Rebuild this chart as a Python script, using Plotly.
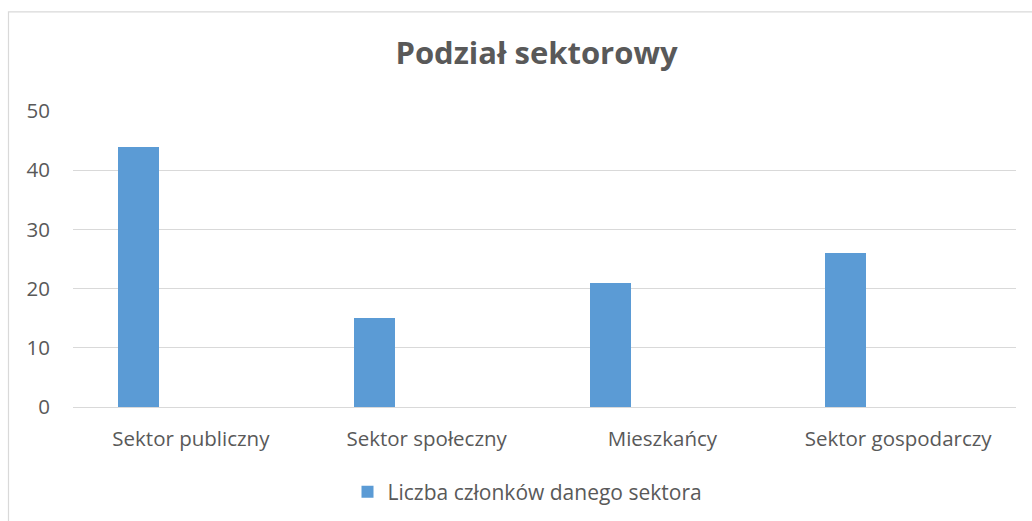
import plotly.graph_objects as go

categories = ["Sektor publiczny", "Sektor społeczny", "Mieszkańcy", "Sektor gospodarczy"]
values = [44, 15, 21, 26]
series_name = "Liczba członków danego sektora"
title_text = "Podział sektorowy"
y_ticks = [0, 10, 20, 30, 40, 50]

FONT = "Open Sans"
GREY = "#595959"

fig = go.Figure()
fig.add_trace(go.Bar(
    x=categories, y=values, name=series_name,
    marker=dict(color="#5B9BD5", line=dict(width=0)),
    width=0.174, offset=-0.309,
))

fig.update_layout(
    width=1032, height=521,
    margin=dict(l=73, r=16, t=111, b=114, pad=0),
    paper_bgcolor="white", plot_bgcolor="white",
    font=dict(family=FONT, color=GREY, size=20),
    title=dict(text=f"<b>{title_text}</b>", x=536.5/1032, xref="container", xanchor="center",
               y=1-53/521, yref="container", yanchor="middle",
               font=dict(family=FONT, size=31, color=GREY)),
    showlegend=True,
    legend=dict(orientation="h", x=0.5-17/943, xref="paper", xanchor="center",
                y=1-492/521, yref="container", yanchor="middle",
                font=dict(family=FONT, size=21, color=GREY), itemwidth=30),
    bargap=0,
    shapes=[dict(type="rect", xref="paper", yref="paper",
                 x0=(8.5-73)/943, x1=1.1, y0=-1, y1=(406.7-11.5)/296,
                 line=dict(color="#d9d9d9", width=1.2), fillcolor="rgba(0,0,0,0)", layer="below")],
)
fig.update_xaxes(showgrid=False, showline=False, zeroline=False, ticks="",
                 tickfont=dict(family=FONT, size=20.5, color=GREY), ticklabelstandoff=17)
fig.update_yaxes(range=[0, 50], tickvals=y_ticks, showgrid=True, gridcolor="#d9d9d9", gridwidth=1.3,
                 zeroline=True, zerolinecolor="#d9d9d9", zerolinewidth=1.3, showline=False, ticks="",
                 tickfont=dict(family=FONT, size=20.5, color=GREY), ticklabelstandoff=22)

fig.write_html("out.html", config={"displayModeBar": False},
               post_script="document.body.style.margin='0';")
